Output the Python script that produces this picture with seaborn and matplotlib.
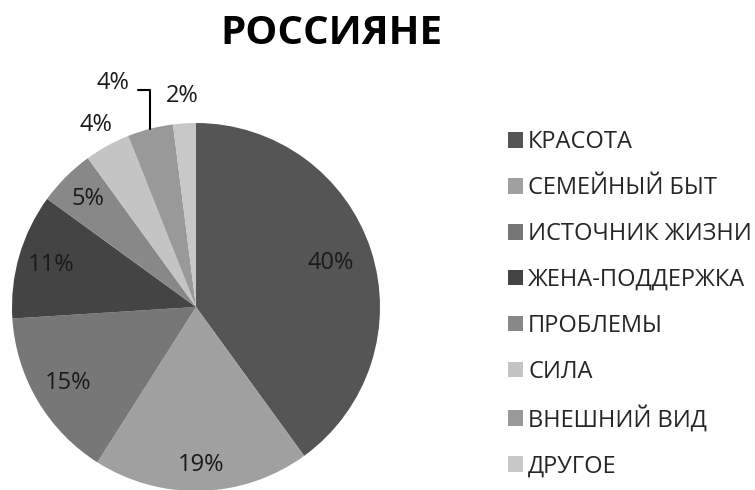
import numpy as np
import matplotlib.pyplot as plt
import seaborn as sns

categories = ['КРАСОТА', 'СЕМЕЙНЫЙ БЫТ', 'ИСТОЧНИК ЖИЗНИ', 'ЖЕНА-ПОДДЕРЖКА',
              'ПРОБЛЕМЫ', 'СИЛА', 'ВНЕШНИЙ ВИД', 'ДРУГОЕ']
shares = [40, 19, 15, 11, 5, 4, 4, 2]
colors = ['#555555', '#a0a0a0', '#777777', '#444444',
          '#888888', '#c4c4c4', '#999999', '#c8c8c8']
# label distance from centre (in radii) and extra angle offset per slice
label_dist = [0.77, 0.86, 0.81, 0.82, 0.83, 1.13, 1.30, 1.15]
label_shift = [0, 0, 0, 0, 0, 0, 6, 0]

sns.set_theme(style='white')
plt.rcParams['font.family'] = ['Open Sans', 'DejaVu Sans']

fig = plt.figure(figsize=(7.55, 4.9), dpi=100)
ax = fig.add_axes([12 / 755, -1 / 490, 368 / 755, 368 / 490])

wedges, _ = ax.pie(shares, colors=colors, startangle=90, counterclock=False,
                   radius=1, wedgeprops=dict(linewidth=0))
ax.set_xlim(-1, 1)
ax.set_ylim(-1, 1)
ax.set_aspect('equal')
ax.axis('off')

total = sum(shares)
for w, v, d, s in zip(wedges, shares, label_dist, label_shift):
    mid = np.deg2rad((w.theta1 + w.theta2) / 2 + s)
    ax.text(d * np.cos(mid), d * np.sin(mid), f'{round(100 * v / total)}%',
            ha='center', va='center', fontsize=17, color='#1a1a1a')

# leader line for the small "ВНЕШНИЙ ВИД" slice
w = wedges[6]
mid = np.deg2rad((w.theta1 + w.theta2) / 2)
x0, y0 = 1.0 * np.cos(mid), 1.0 * np.sin(mid)
ax.plot([x0, x0, x0 - 0.065], [y0, 1.18, 1.18], color='black', lw=1.5,
        clip_on=False)

fig.text(331 / 755, 1 - 34 / 490, 'РОССИЯНЕ', ha='center', va='center',
         fontsize=29, fontweight='bold', color='black')

fig.legend(wedges, categories, loc='upper left', bbox_to_anchor=(508 / 755, 1 - 130 / 490),
           frameon=False, fontsize=17, handlelength=0.65, handleheight=0.65,
           handletextpad=0.2, labelspacing=0.93, borderaxespad=0, borderpad=0)

fig.savefig('out.png', dpi=100)
